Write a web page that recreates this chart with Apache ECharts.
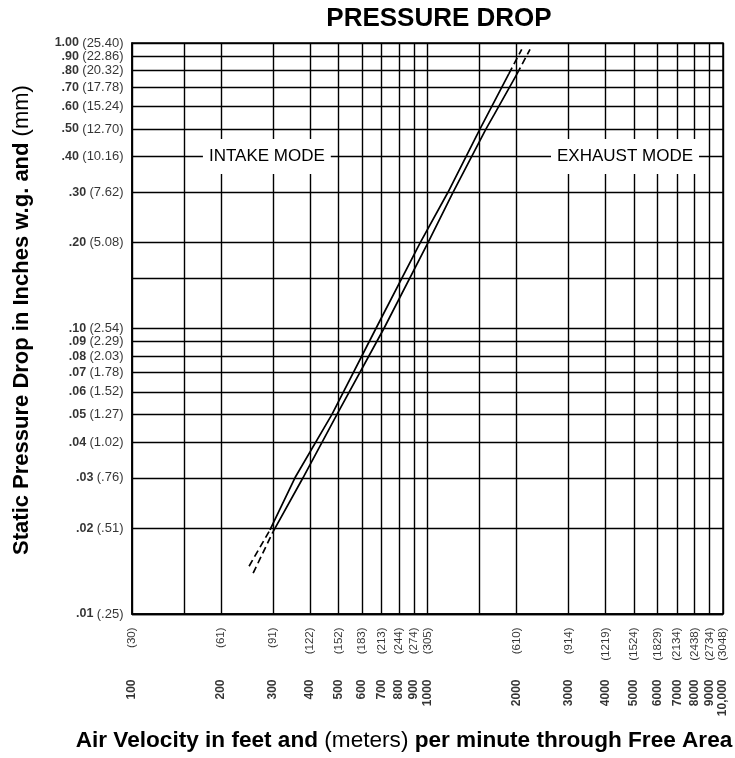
<!DOCTYPE html>
<html>
<head>
<meta charset="utf-8">
<script src="https://cdn.jsdelivr.net/npm/echarts@6/dist/echarts.min.js"></script>
<style>
  html, body { margin: 0; padding: 0; background: #fff; }
  #chart { width: 735px; height: 758px; }
</style>
</head>
<body>
<div id="chart"></div>
<script>
// ---- Data ----
const xTickValues = [100, 200, 300, 400, 500, 600, 700, 800, 900, 1000, 2000, 3000, 4000, 5000, 6000, 7000, 8000, 9000, 10000];
const xFeetLabels = ['100', '200', '300', '400', '500', '600', '700', '800', '900', '1000', '2000', '3000', '4000', '5000', '6000', '7000', '8000', '9000', '10,000'];
const xMeterLabels = ['(30)', '(61)', '(91)', '(122)', '(152)', '(183)', '(213)', '(244)', '(274)', '(305)', '(610)', '(914)', '(1219)', '(1524)', '(1829)', '(2134)', '(2438)', '(2734)', '(3048)'];
const xGridValues = [100, 150, 200, 300, 400, 500, 600, 700, 800, 900, 1000, 1500, 2000, 3000, 4000, 5000, 6000, 7000, 8000, 9000, 10000];

const yTickValues = [0.01, 0.02, 0.03, 0.04, 0.05, 0.06, 0.07, 0.08, 0.09, 0.1, 0.2, 0.3, 0.4, 0.5, 0.6, 0.7, 0.8, 0.9, 1.0];
const yInchLabels = ['.01', '.02', '.03', '.04', '.05', '.06', '.07', '.08', '.09', '.10', '.20', '.30', '.40', '.50', '.60', '.70', '.80', '.90', '1.00'];
const yMmLabels = ['(.25)', '(.51)', '(.76)', '(1.02)', '(1.27)', '(1.52)', '(1.78)', '(2.03)', '(2.29)', '(2.54)', '(5.08)', '(7.62)', '(10.16)', '(12.70)', '(15.24)', '(17.78)', '(20.32)', '(22.86)', '(25.40)'];
const yGridValues = [0.01, 0.015, 0.02, 0.03, 0.04, 0.05, 0.06, 0.07, 0.08, 0.09, 0.1, 0.15, 0.2, 0.3, 0.4, 0.5, 0.6, 0.7, 0.8, 0.9, 1.0];

// Curve A (left line): [velocity fpm, pressure in. w.g.]
const lineALower = [[249, 0.0147], [293, 0.0197]];
const lineASolid = [[293, 0.0197], [356, 0.03], [475, 0.05], [669, 0.1], [945, 0.2], [1173, 0.3], [1506, 0.5], [1884, 0.78]];
const lineAUpper = [[1884, 0.78], [2084, 0.95]];
// Curve B (right line)
const lineBLower = [[257, 0.0139], [300, 0.0194]];
const lineBSolid = [[300, 0.0194], [379, 0.03], [494, 0.05], [712, 0.1], [1004, 0.2], [1220, 0.3], [1578, 0.5], [1679, 0.56], [2009, 0.78]];
const lineBUpper = [[2009, 0.78], [2223, 0.95]];

const modeTexts = ['INTAKE MODE', 'EXHAUST MODE'];
const modeVelocity = [286, 4660];
const modePressure = [0.4, 0.4];

const X_MIN = 100, X_MAX = 10000, Y_MIN = 0.01, Y_MAX = 1.0;
const FONT = '"Liberation Sans", Arial, Helvetica, sans-serif';

// ---- Chart ----
const chart = echarts.init(document.getElementById('chart'), null, { renderer: 'canvas' });

const gridLineStyle = { color: '#000', width: 1.4, type: 'solid' };
const markLineData = [].concat(
  xGridValues.map(v => ({ xAxis: v })),
  yGridValues.map(v => ({ yAxis: v }))
);

function curve(data, dashed) {
  return {
    type: 'line',
    data: data,
    showSymbol: false,
    symbol: 'none',
    silent: true,
    z: 5,
    lineStyle: { color: '#000', width: 1.7, type: dashed ? [7, 4] : 'solid' },
    emphasis: { disabled: true },
    animation: false
  };
}

const option = {
  animation: false,
  backgroundColor: '#fff',
  textStyle: { fontFamily: FONT },
  grid: {
    left: 132, right: 12, top: 43, bottom: 144,
    show: true, borderColor: '#000', borderWidth: 1.5, backgroundColor: 'transparent'
  },
  xAxis: {
    type: 'log', logBase: 10, min: X_MIN, max: X_MAX,
    axisLine: { show: true, lineStyle: { color: '#000', width: 1.5 } },
    axisTick: { show: false },
    axisLabel: { show: false },
    splitLine: { show: false },
    minorSplitLine: { show: false }
  },
  yAxis: {
    type: 'log', logBase: 10, min: Y_MIN, max: Y_MAX,
    axisLine: { show: true, lineStyle: { color: '#000', width: 1.5 } },
    axisTick: { show: false },
    axisLabel: { show: false },
    splitLine: { show: false },
    minorSplitLine: { show: false }
  },
  graphic: [
    {
      type: 'text', x: 439, y: 19, silent: true,
      style: {
        text: 'PRESSURE DROP', fill: '#000',
        font: 'bold 26px ' + FONT,
        align: 'center', verticalAlign: 'middle'
      }
    },
    {
      type: 'text', x: 404, y: 741, silent: true,
      style: {
        text: '{b|Air Velocity in feet and }{n|(meters)}{b| per minute through Free Area}',
        align: 'center', verticalAlign: 'middle', fill: '#000',
        rich: {
          b: { fontFamily: FONT, fontWeight: 'bold', fontSize: 22.6, fill: '#000' },
          n: { fontFamily: FONT, fontWeight: 'normal', fontSize: 22.6, fill: '#000' }
        }
      }
    },
    {
      type: 'text', x: 22, y: 320, rotation: Math.PI / 2, silent: true,
      style: {
        text: '{b|Static Pressure Drop in Inches w.g. and }{n|(mm)}',
        align: 'center', verticalAlign: 'middle', fill: '#000',
        rich: {
          b: { fontFamily: FONT, fontWeight: 'bold', fontSize: 22, fill: '#000' },
          n: { fontFamily: FONT, fontWeight: 'normal', fontSize: 22, fill: '#000' }
        }
      }
    }
  ],
  series: [
    {
      // grid lines drawn through the axes' own log scales
      type: 'line', data: [], silent: true, z: 2,
      markLine: {
        silent: true, symbol: ['none', 'none'], animation: false,
        label: { show: false },
        lineStyle: gridLineStyle,
        emphasis: { disabled: true },
        data: markLineData
      }
    },
    curve(lineALower, true),
    curve(lineASolid, false),
    curve(lineAUpper, true),
    curve(lineBLower, true),
    curve(lineBSolid, false),
    curve(lineBUpper, true),
    {
      // x tick labels
      type: 'scatter', silent: true, clip: false, z: 6,
      symbolSize: 1, itemStyle: { color: 'rgba(0,0,0,0)' },
      data: xTickValues.map(v => [v, Y_MIN]),
      emphasis: { disabled: true },
      label: {
        show: true, position: 'bottom', distance: 13, rotate: 90,
        align: 'right', verticalAlign: 'middle',
        formatter: p => '{b|' + xFeetLabels[p.dataIndex] + '}{n|' + xMeterLabels[p.dataIndex] + '}',
        rich: {
          b: { fontFamily: FONT, fontWeight: 'bold', fontSize: 12, color: '#000', width: 50, align: 'right' },
          n: { fontFamily: FONT, fontWeight: 'normal', fontSize: 11.5, color: '#000', width: 52, align: 'right' }
        }
      }
    },
    {
      // y tick labels
      type: 'scatter', silent: true, clip: false, z: 6,
      symbolSize: 1, itemStyle: { color: 'rgba(0,0,0,0)' },
      data: yTickValues.map(v => [X_MIN, v]),
      emphasis: { disabled: true },
      label: {
        show: true, position: 'left', distance: 8,
        formatter: p => '{b|' + yInchLabels[p.dataIndex] + '} {n|' + yMmLabels[p.dataIndex] + '}',
        rich: {
          b: { fontFamily: FONT, fontWeight: 'bold', fontSize: 12.5, color: '#000' },
          n: { fontFamily: FONT, fontWeight: 'normal', fontSize: 13, color: '#000' }
        }
      }
    },
    {
      // mode annotations
      type: 'scatter', silent: true, clip: false, z: 8,
      symbolSize: 1, itemStyle: { color: 'rgba(0,0,0,0)' },
      data: modeVelocity.map((v, i) => [v, modePressure[i]]),
      emphasis: { disabled: true },
      label: {
        show: true, position: 'inside',
        formatter: p => modeTexts[p.dataIndex],
        fontFamily: FONT, fontSize: 17, color: '#000', opacity: 1,
        backgroundColor: '#fff', padding: [9, 6]
      }
    }
  ]
};

chart.setOption(option);
</script>
</body>
</html>
